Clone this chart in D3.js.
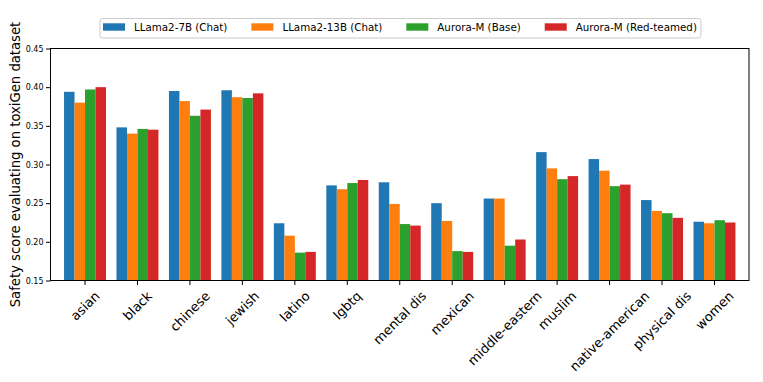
<!DOCTYPE html>
<html>
<head>
<meta charset="utf-8">
<script src="https://cdn.jsdelivr.net/npm/d3@7"></script>
<style>
  body { margin: 0; background: white; }
  text { font-family: "DejaVu Sans", sans-serif; fill: black; }
</style>
</head>
<body>
<div id="chart"></div>
<script>
const categories = ["asian", "black", "chinese", "jewish", "latino", "lgbtq", "mental dis",
    "mexican", "middle-eastern", "muslim", "native-american", "physical dis", "women"];
const seriesNames = ["LLama2-7B (Chat)", "LLama2-13B (Chat)", "Aurora-M (Base)", "Aurora-M (Red-teamed)"];
const llama7b = [0.394, 0.348, 0.395, 0.396, 0.224, 0.273, 0.277, 0.250, 0.256, 0.316, 0.307, 0.254, 0.226];
const llama13b = [0.380, 0.340, 0.382, 0.387, 0.208, 0.268, 0.249, 0.227, 0.256, 0.295, 0.292, 0.240, 0.224];
const auroraBase = [0.397, 0.346, 0.363, 0.386, 0.186, 0.276, 0.223, 0.188, 0.195, 0.281, 0.272, 0.237, 0.228];
const auroraRed = [0.400, 0.345, 0.371, 0.392, 0.187, 0.280, 0.221, 0.187, 0.203, 0.285, 0.274, 0.231, 0.225];
const yTicks = [0.15, 0.20, 0.25, 0.30, 0.35, 0.40, 0.45];
const colors = ["#1f77b4", "#ff7f0e", "#2ca02c", "#d62728"];

const series = [llama7b, llama13b, auroraBase, auroraRed];

const width = 763, height = 382;
const plotLeft = 50.5, plotRight = 749, plotTop = 48.5, plotBottom = 280.5;

const svg = d3.select("#chart").append("svg")
    .attr("width", width)
    .attr("height", height);

const x = d3.scaleBand()
    .domain(categories)
    .range([plotLeft, plotRight])
    .paddingInner(0.2)
    .paddingOuter(0.258);

const xs = d3.scaleBand()
    .domain(d3.range(series.length))
    .range([0, x.bandwidth()]);

const y = d3.scaleLinear()
    .domain([0.15, 0.45])
    .range([plotBottom, plotTop]);

// bars
series.forEach((vals, s) => {
    svg.append("g")
        .selectAll("rect")
        .data(vals)
        .join("rect")
        .attr("x", (d, i) => x(categories[i]) + xs(s))
        .attr("y", d => y(d))
        .attr("width", xs.bandwidth())
        .attr("height", d => y(0.15) - y(d))
        .attr("fill", colors[s]);
});

// y axis
const yAxis = svg.append("g")
    .attr("transform", "translate(" + plotLeft + ",0)")
    .call(d3.axisLeft(y).tickValues(yTicks).tickFormat(d3.format(".2f")).tickSize(4.5).tickPadding(2.5));
yAxis.select(".domain").remove();
yAxis.selectAll("text").style("font-size", "8px").style("font-family", "DejaVu Sans");

// x axis
const xAxis = svg.append("g")
    .attr("transform", "translate(0," + plotBottom + ")")
    .call(d3.axisBottom(x).tickSize(4.5).tickFormat(""));
xAxis.select(".domain").remove();

// rotated x labels, bbox centred on the tick like matplotlib
const xFont = 13;
categories.forEach(c => {
    const g = svg.append("g");
    const t = g.append("text")
        .attr("text-anchor", "middle")
        .attr("dy", "0.35em")
        .style("font-size", xFont + "px")
        .text(c);
    const len = t.node().getComputedTextLength();
    const half = (len + xFont * 1.0) * Math.SQRT1_2 / 2;
    g.attr("transform", "translate(" + (x(c) + x.bandwidth() / 2) + "," + (plotBottom + 8.5 + half) + ")");
    t.attr("transform", "rotate(-45)");
});

// frame
svg.append("rect")
    .attr("x", plotLeft)
    .attr("y", plotTop)
    .attr("width", plotRight - plotLeft)
    .attr("height", plotBottom - plotTop)
    .attr("fill", "none")
    .attr("stroke", "black")
    .attr("stroke-width", 1);

// y label
svg.append("text")
    .attr("transform", "translate(20," + ((plotTop + plotBottom) / 2) + ") rotate(-90)")
    .attr("text-anchor", "middle")
    .style("font-size", "13.2px")
    .text("Safety score evaluating on toxiGen dataset");

// legend
const legend = svg.append("g");
const box = legend.append("rect")
    .attr("x", 100)
    .attr("y", 18.5)
    .attr("height", 19.5)
    .attr("rx", 2.5)
    .attr("fill", "white")
    .attr("stroke", "#cccccc")
    .attr("stroke-width", 1);

let lx = 103;
seriesNames.forEach((name, i) => {
    legend.append("rect")
        .attr("x", lx)
        .attr("y", 23.3)
        .attr("width", 22)
        .attr("height", 7.4)
        .attr("fill", colors[i]);
    const t = legend.append("text")
        .attr("x", lx + 31)
        .attr("y", 27)
        .attr("dy", "0.35em")
        .style("font-size", "10.3px")
        .text(name);
    lx += 31 + t.node().getComputedTextLength() + 24;
});
box.attr("width", lx - 24 + 4 - 100);
</script>
</body>
</html>
